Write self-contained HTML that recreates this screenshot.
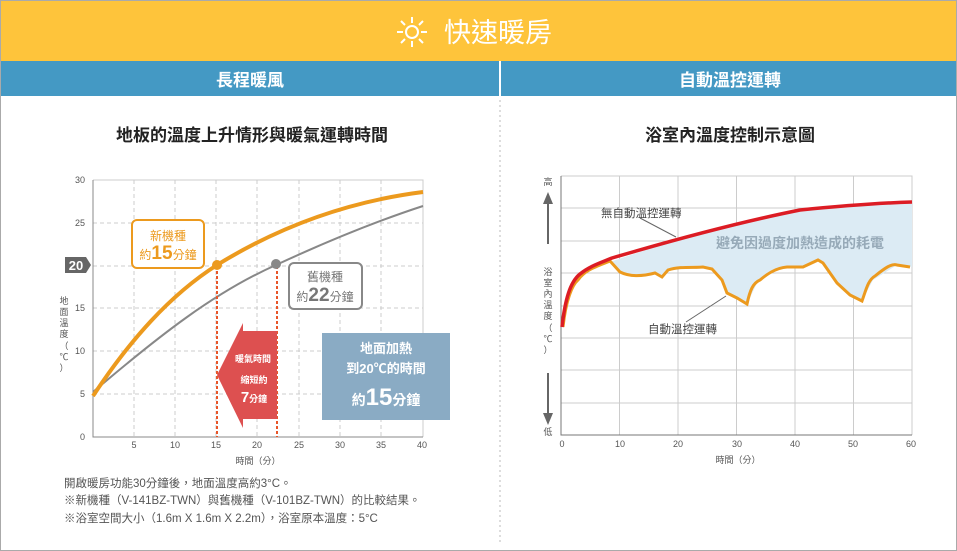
<!DOCTYPE html>
<html><head><meta charset="utf-8"><style>
body{margin:0;background:#fff;}
svg{display:block;font-family:"Liberation Sans","Noto Sans CJK TC",sans-serif;}
</style></head><body>
<svg width="957" height="551" viewBox="0 0 957 551">
<rect x="0.5" y="0.5" width="956" height="550" fill="#fff" stroke="#aaa"/>
<rect x="1" y="1" width="955" height="60" fill="#fec43b"/>
<g stroke="#fff" stroke-width="2" fill="none">
<circle cx="412" cy="32" r="6"/>
<path d="M412,17v6M412,41v6M397,32h6M421,32h6M401,21l4,4M419,39l4,4M423,21l-4,4M405,39l-4,4"/>
</g>
<text x="498" y="42" fill="#fff" font-size="27" text-anchor="middle">快速暖房</text>
<rect x="1" y="61" width="955" height="35" fill="#4499c4"/>
<rect x="499" y="61" width="2" height="35" fill="#fff"/>
<text x="250" y="86" fill="#fff" font-size="17" font-weight="bold" text-anchor="middle">長程暖風</text>
<text x="730" y="86" fill="#fff" font-size="17" font-weight="bold" text-anchor="middle">自動溫控運轉</text>
<line x1="500" y1="100" x2="500" y2="545" stroke="#bbb" stroke-dasharray="2,3"/>
<text x="252" y="141" fill="#222" font-size="17" font-weight="bold" text-anchor="middle">地板的溫度上升情形與暖氣運轉時間</text>
<text x="730" y="141" fill="#222" font-size="17" font-weight="bold" text-anchor="middle">浴室內溫度控制示意圖</text>

<!-- left chart -->
<g stroke="#ccc" stroke-dasharray="4,3" stroke-width="1" fill="none">
<path d="M93,223H423M93,266H423M93,308H423M93,351H423M93,394H423"/>
<path d="M134,180V437M175,180V437M216,180V437M257,180V437M299,180V437M340,180V437M381,180V437"/>
</g>
<path d="M93,180H423V437" fill="none" stroke="#ccc"/>
<path d="M93,180V437H423" fill="none" stroke="#888"/>
<g font-size="9" fill="#555" text-anchor="end">
<text x="85" y="183">30</text><text x="85" y="226">25</text><text x="85" y="311">15</text><text x="85" y="354">10</text><text x="85" y="397">5</text><text x="85" y="440">0</text>
</g>
<g font-size="9" fill="#555" text-anchor="middle">
<text x="134" y="448">5</text><text x="175" y="448">10</text><text x="216" y="448">15</text><text x="257" y="448">20</text><text x="299" y="448">25</text><text x="340" y="448">30</text><text x="381" y="448">35</text><text x="422" y="448">40</text>
<text x="258" y="464">時間（分）</text>
</g>
<g font-size="9" fill="#555" text-anchor="middle">
<text x="64" y="304">地</text><text x="64" y="315">面</text><text x="64" y="326">溫</text><text x="64" y="337">度</text><text x="64" y="349">（</text><text x="64" y="360">℃</text><text x="64" y="371">）</text>
</g>
<path d="M65,257H86L91,265L86,273H65Z" fill="#666"/>
<text x="76" y="270" fill="#fff" font-size="13" font-weight="bold" text-anchor="middle">20</text>
<path d="M93,392 C160,335 215,292 276,265 C330,240 380,220 423,206" fill="none" stroke="#888" stroke-width="2"/>
<path d="M93,396 C130,340 170,295 217,265 C290,220 360,200 423,192" fill="none" stroke="#ec9a1e" stroke-width="4"/>
<g stroke="#e8562a" stroke-width="2" stroke-dasharray="3,2" fill="none"><path d="M217,266V437M277,266V437"/></g>
<circle cx="217" cy="265" r="5" fill="#ec9a1e"/>
<circle cx="276" cy="264" r="5" fill="#888"/>
<rect x="132" y="220" width="72" height="48" rx="5" fill="#fff" stroke="#ec9a1e" stroke-width="2"/>
<text x="168" y="240" fill="#ec9a1e" font-size="12" text-anchor="middle">新機種</text>
<text x="168" y="259" fill="#ec9a1e" font-size="12" text-anchor="middle">約<tspan font-size="19" font-weight="bold">15</tspan>分鐘</text>
<rect x="289" y="263" width="73" height="46" rx="5" fill="#fff" stroke="#888" stroke-width="2"/>
<text x="325" y="281" fill="#777" font-size="12" text-anchor="middle">舊機種</text>
<text x="325" y="301" fill="#777" font-size="12" text-anchor="middle">約<tspan font-size="19" font-weight="bold">22</tspan>分鐘</text>
<path d="M243,323V331H277V419H243V428L217,375Z" fill="#dd5050"/>
<text x="253" y="362" fill="#fff" font-size="9" font-weight="bold" text-anchor="middle">暖氣時間</text>
<text x="254" y="383" fill="#fff" font-size="9" font-weight="bold" text-anchor="middle">縮短約</text>
<text x="254" y="402" fill="#fff" font-size="9" font-weight="bold" text-anchor="middle"><tspan font-size="15">7</tspan>分鐘</text>
<rect x="322" y="333" width="128" height="87" fill="#8aabc4"/>
<text x="386" y="353" fill="#fff" font-size="13" font-weight="bold" text-anchor="middle">地面加熱</text>
<text x="386" y="373" fill="#fff" font-size="13" font-weight="bold" text-anchor="middle">到20℃的時間</text>
<text x="386" y="405" fill="#fff" font-size="14" font-weight="bold" text-anchor="middle">約<tspan font-size="24">15</tspan>分鐘</text>
<g font-size="11.5" fill="#555">
<text x="64" y="487">開啟暖房功能30分鐘後，地面溫度高約3°C。</text>
<text x="64" y="504">※新機種（V-141BZ-TWN）與舊機種（V-101BZ-TWN）的比較結果。</text>
<text x="64" y="522">※浴室空間大小（1.6m X 1.6m X 2.2m），浴室原本溫度：5°C</text>
</g>

<!-- right chart -->
<g stroke="#ccc" stroke-width="1" fill="none">
<path d="M561,208H912M561,241H912M561,273H912M561,306H912M561,338H912M561,370H912M561,403H912"/>
<path d="M619.5,176V435M678,176V435M736.5,176V435M795,176V435M853.5,176V435"/>
<path d="M561,176H912V435"/>
</g>
<path d="M561,176V435H912" fill="none" stroke="#777"/>
<path d="M610,262 C680,238 740,222 800,210 C850,205 880,203 912,202 V267 L897,265 L873,280 L862,301 L850,295 L837,283 L823,263 L818,260 L803,267 L787,267 L770,273 L757,283 L747,304 L737,298 L727,293 L722,280 L712,269 L703,267 L668,270 L662,277 L655,273 L637,276 L620,272 Z" fill="#dcebf4"/>
<path d="M563,327 C566,300 572,285 578,280 C585,270 595,267 610,261 L620,272 C628,276 640,277 655,273 L662,277 L668,270 C680,266 695,268 703,267 L712,269 L722,280 L727,293 L737,298 L747,304 C750,290 753,283 760,280 C766,275 775,268 787,267 L803,267 L818,260 L823,263 L837,283 L850,295 L862,301 C866,290 868,280 875,276 C885,268 892,263 897,265 L910,267" fill="none" stroke="#ec9a1e" stroke-width="3"/>
<path d="M562,327 C565,300 570,282 580,274 C590,266 600,263 612,258 C680,238 740,222 800,210 C850,205 880,203 912,202" fill="none" stroke="#dc1c24" stroke-width="3.5"/>
<path d="M640,218 L676,237" stroke="#666" stroke-width="1"/>
<path d="M686,322 L726,296" stroke="#666" stroke-width="1"/>
<text x="601" y="217" font-size="11.5" fill="#444">無自動溫控運轉</text>
<text x="648" y="333" font-size="11.5" fill="#444">自動溫控運轉</text>
<text x="800" y="248" font-size="14" font-weight="bold" fill="#97aab8" text-anchor="middle">避免因過度加熱造成的耗電</text>
<g font-size="9" fill="#555" text-anchor="middle">
<text x="548" y="185">高</text><text x="548" y="435">低</text>
<text x="548" y="275">浴</text><text x="548" y="286">室</text><text x="548" y="297">內</text><text x="548" y="308">溫</text><text x="548" y="319">度</text><text x="548" y="331">（</text><text x="548" y="342">℃</text><text x="548" y="353">）</text>
<text x="562" y="447">0</text><text x="620" y="447">10</text><text x="678" y="447">20</text><text x="737" y="447">30</text><text x="795" y="447">40</text><text x="853" y="447">50</text><text x="911" y="447">60</text>
<text x="738" y="463">時間（分）</text>
</g>
<path d="M547,204V244h2V204Z" fill="#666"/><path d="M543,204L548,192L553,204Z" fill="#666"/>
<path d="M547,373V414h2V373Z" fill="#666"/><path d="M543,413L548,425L553,413Z" fill="#666"/>
</svg>
</body></html>
